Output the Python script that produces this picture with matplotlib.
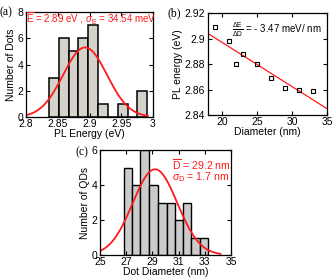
import matplotlib
matplotlib.use("Agg")
import matplotlib.pyplot as plt
import matplotlib.ticker as mticker
import numpy as np

plt.rcParams["font.family"] = ["Liberation Sans", "DejaVu Sans"]
plt.rcParams["mathtext.fontset"] = "custom"
plt.rcParams["mathtext.rm"] = "Liberation Sans"
plt.rcParams["mathtext.it"] = "Liberation Sans:italic"
plt.rcParams["mathtext.sf"] = "Liberation Sans"
plt.rcParams["font.size"] = 7

# (a) PL energy histogram
energy_edges = [2.836, 2.8515, 2.867, 2.8825, 2.898, 2.9135, 2.929, 2.9445, 2.96, 2.9755, 2.991]
energy_counts = [3, 6, 5, 6, 7, 1, 0, 1, 0, 2]
energy_mean, energy_sigma, energy_peak = 2.893, 0.03454, 5.3

# (b) PL energy vs diameter
diam_pts = [19, 21, 22, 23, 25, 27, 29, 31, 33]
pl_pts = [2.909, 2.898, 2.880, 2.888, 2.880, 2.869, 2.861, 2.860, 2.859]
fit_x = [18, 35]
fit_y = [2.904, 2.845]

# (c) dot diameter histogram
diam_edges = [26.81, 27.45, 28.09, 28.73, 29.41, 30.09, 30.72, 31.35, 31.98, 32.61, 33.24]
diam_counts = [5, 4, 6, 4, 3, 3, 2, 3, 1, 1]
diam_mean, diam_sigma, diam_peak = 29.2, 1.7, 4.9

RED = "#ff1a1a"


def style(ax):
    ax.tick_params(direction="in", top=True, right=True, length=3, width=0.8,
                   pad=1.5, labelsize=7.5)
    ax.tick_params(axis="y", pad=2)
    for s in ax.spines.values():
        s.set_linewidth(0.9)


def draw_hist(ax, edges, counts, color, lw):
    edges = np.array(edges)
    ax.bar(edges[:-1], counts, width=np.diff(edges), align="edge",
           color=color, edgecolor="black", linewidth=lw)


fig = plt.figure(figsize=(3.36, 2.77), dpi=100)

# ── (a) ───────────────────────────────────────────────────────────
ax1 = fig.add_axes([0.0774, 0.5776, 0.378, 0.379])
draw_hist(ax1, energy_edges, energy_counts, "#d5d2cb", 1.1)
xe = np.linspace(2.8, 2.992, 200)
ax1.plot(xe, energy_peak * np.exp(-0.5 * ((xe - energy_mean) / energy_sigma) ** 2),
         color=RED, lw=1.3)
ax1.set_xlim(2.8, 3.0)
ax1.set_ylim(0, 8)
ax1.set_xticks([2.8, 2.85, 2.9, 2.95, 3.0])
ax1.set_yticks([0, 2, 4, 6, 8])
ax1.xaxis.set_major_formatter(mticker.FormatStrFormatter("%g"))
ax1.set_xlabel("PL Energy (eV)", fontsize=7.5, labelpad=0)
ax1.set_ylabel("Number of Dots", fontsize=7.5, labelpad=1)
style(ax1)
ax1.text(0.0, 0.935, r"$\overline{\mathrm{E}}$ = 2.89 eV , $\sigma_\mathrm{E}$ = 34.54 meV",
         transform=ax1.transAxes, color=RED, fontsize=7.0, va="center", ha="left")
fig.text(0.0, 0.955, "(a)", family="Liberation Serif", fontsize=8.5, va="center")

# ── (b) ───────────────────────────────────────────────────────────
ax2 = fig.add_axes([0.619, 0.5848, 0.354, 0.368])
ax2.plot(fit_x, fit_y, color=RED, lw=0.9)
ax2.plot(diam_pts, pl_pts, "s", mfc="none", mec="black", ms=3.2, mew=0.8)
ax2.set_xlim(18, 35)
ax2.set_ylim(2.84, 2.92)
ax2.set_xticks([20, 25, 30, 35])
ax2.set_yticks([2.84, 2.86, 2.88, 2.90, 2.92])
ax2.yaxis.set_major_formatter(mticker.FormatStrFormatter("%g"))
ax2.set_xlabel("Diameter (nm)", fontsize=7.5, labelpad=0)
ax2.set_ylabel("PL energy (eV)", fontsize=7.5, labelpad=1)
style(ax2)
ax2.text(0.2, 0.84, r"$\frac{\Delta\mathrm{E}}{\Delta\mathrm{D}}$ = - 3.47 meV/ nm",
         transform=ax2.transAxes, fontsize=7, va="center", ha="left")
fig.text(0.50, 0.952, "(b)", family="Liberation Serif", fontsize=8.5, va="center")

# ── (c) ───────────────────────────────────────────────────────────
ax3 = fig.add_axes([0.2976, 0.0794, 0.390, 0.379])
draw_hist(ax3, diam_edges, diam_counts, "#cbcbcb", 1.0)
xd = np.linspace(25, 34.2, 200)
ax3.plot(xd, diam_peak * np.exp(-0.5 * ((xd - diam_mean) / diam_sigma) ** 2),
         color=RED, lw=1.3)
ax3.set_xlim(25, 35)
ax3.set_ylim(0, 6)
ax3.set_xticks([25, 27, 29, 31, 33, 35])
ax3.set_yticks([0, 2, 4, 6])
ax3.set_xlabel("Dot Diameter (nm)", fontsize=7.5, labelpad=0)
ax3.set_ylabel("Number of QDs", fontsize=7.5, labelpad=1)
style(ax3)
ax3.text(0.55, 0.86, r"$\overline{\mathrm{D}}$ = 29.2 nm", transform=ax3.transAxes,
         color=RED, fontsize=7.6, va="center", ha="left")
ax3.text(0.55, 0.74, r"$\sigma_\mathrm{D}$ = 1.7 nm", transform=ax3.transAxes,
         color=RED, fontsize=7.6, va="center", ha="left")
fig.text(0.225, 0.45, "(c)", family="Liberation Serif", fontsize=8.5, va="center")

fig.savefig("out.png", dpi=100)
